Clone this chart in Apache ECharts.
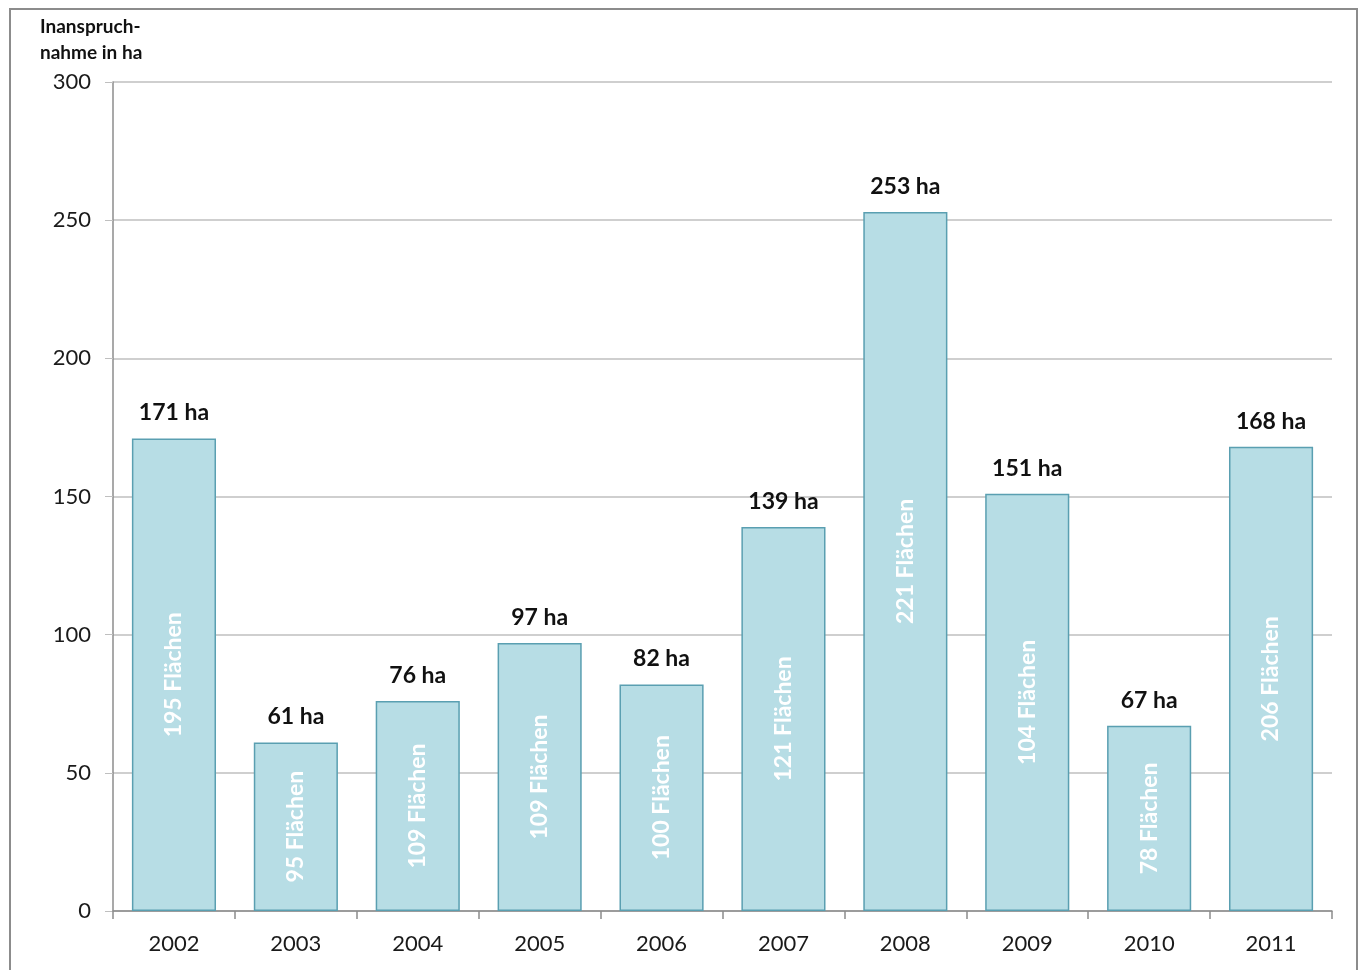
<!DOCTYPE html>
<html>
<head>
<meta charset="utf-8">
<script src="https://cdn.jsdelivr.net/npm/echarts@6/dist/echarts.min.js"></script>
<style>
  html, body { margin: 0; padding: 0; background: #fff; }
  #frame { position: absolute; left: 9px; top: 8px; width: 1349px; height: 1000px; border: 2px solid #8c8c8c; box-sizing: border-box; }
  #chart { position: absolute; left: 0; top: 0; width: 1366px; height: 970px; }
</style>
</head>
<body>
<div id="frame"></div>
<div id="chart"></div>
<script>
// Flächeninanspruchnahme pro Jahr
const years = ['2002', '2003', '2004', '2005', '2006', '2007', '2008', '2009', '2010', '2011'];
const hectares = [171, 61, 76, 97, 82, 139, 253, 151, 67, 168];
const areaCounts = [195, 95, 109, 109, 100, 121, 221, 104, 78, 206];
const yTicks = [0, 50, 100, 150, 200, 250, 300];

const font = 'Lato, "Open Sans", sans-serif';
const chart = echarts.init(document.getElementById('chart'));

chart.setOption({
  animation: false,
  textStyle: { fontFamily: font },
  title: {
    text: 'Inanspruch-\nnahme in ha',
    left: 35, top: 9,
    textStyle: { fontFamily: font, fontSize: 19, fontWeight: 'bold', color: '#111', lineHeight: 26 }
  },
  grid: { left: 113, right: 34, top: 82, bottom: 59, containLabel: false },
  xAxis: {
    type: 'category',
    data: years,
    axisLine: { lineStyle: { color: '#8c8c8c', width: 1.5 } },
    axisTick: { show: true, length: 8, alignWithLabel: false, lineStyle: { color: '#8c8c8c', width: 1.5 } },
    axisLabel: { fontFamily: font, fontSize: 22, color: '#1a1a1a', margin: 22 }
  },
  yAxis: {
    type: 'value',
    min: yTicks[0], max: yTicks[yTicks.length - 1], interval: yTicks[1] - yTicks[0],
    axisLine: { show: true, lineStyle: { color: '#8c8c8c', width: 1.5 } },
    axisTick: { show: true, length: 8, lineStyle: { color: '#bfbfbf' } },
    splitLine: { lineStyle: { color: '#bfbfbf', width: 1.5 } },
    axisLabel: { fontFamily: font, fontSize: 22, color: '#1a1a1a', margin: 22 }
  },
  series: [{
    type: 'bar',
    data: hectares,
    barCategoryGap: '31%',
    itemStyle: { color: '#b7dde5', borderColor: '#5a9fb1', borderWidth: 1.5 },
    label: {
      show: true,
      position: 'top',
      distance: 14,
      fontFamily: font, fontSize: 23, fontWeight: 'bold', color: '#111',
      formatter: p => p.value + ' ha'
    },
    z: 2
  }, {
    // Anzahl der Flächen, senkrecht im Balken
    type: 'bar',
    data: hectares,
    barGap: '-100%',
    barCategoryGap: '31%',
    itemStyle: { color: 'transparent' },
    silent: true,
    label: {
      show: true,
      position: 'inside',
      rotate: 90,
      fontFamily: font, fontSize: 23, fontWeight: 'bold', color: '#ffffff',
      formatter: p => areaCounts[p.dataIndex] + ' Flächen'
    },
    z: 3
  }]
});
</script>
</body>
</html>
